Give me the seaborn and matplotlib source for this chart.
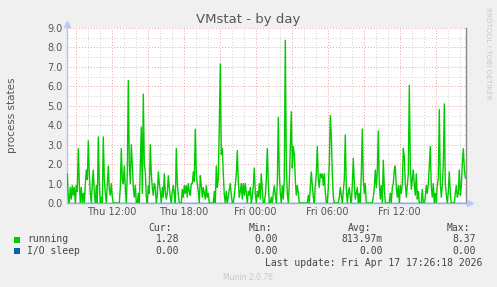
import numpy as np
import matplotlib
matplotlib.use("Agg")
import matplotlib.pyplot as plt
import seaborn as sns
import pandas as pd

# ---- data -------------------------------------------------------------
title = "VMstat - by day"
y_label = "process states"
start_hour = 8.30          # Thu 08:18, hours since Thu 00:00
step_minutes = 5
running = [
    1.5, 0.3, 0.0, 0.8, 0.2, 0.9, 0.4, 0.8, 0.0, 0.9,
    0.6, 2.8, 1.0, 0.0, 0.8, 0.0, 0.5, 0.0, 1.0, 1.7,
    1.2, 3.2, 1.5, 0.5, 0.0, 1.0, 1.7, 0.5, 0.0, 0.9,
    0.0, 3.4, 1.0, 0.0, 0.3, 0.0, 3.4, 1.2, 0.5, 0.0,
    0.9, 1.9, 0.7, 0.4, 1.0, 0.3, 0.0, 0.0, 0.0, 0.0,
    0.0, 0.0, 0.0, 0.8, 2.8, 1.2, 1.0, 1.9, 0.8, 0.0,
    1.5, 6.3, 2.0, 1.0, 3.0, 2.0, 0.8, 0.3, 0.9, 0.0,
    0.0, 0.5, 0.0, 2.0, 3.9, 0.5, 5.6, 2.0, 1.6, 0.3,
    0.0, 0.9, 0.5, 3.0, 1.5, 0.8, 0.4, 1.0, 0.8, 0.0,
    0.4, 1.6, 1.0, 0.6, 0.0, 0.8, 0.3, 1.5, 0.6, 0.2,
    0.5, 1.4, 0.8, 0.3, 0.0, 0.6, 0.9, 0.4, 0.0, 2.8,
    1.0, 0.4, 0.0, 0.0, 0.0, 0.7, 0.3, 0.9, 0.5, 0.9,
    0.3, 1.0, 0.6, 0.4, 1.0, 1.0, 1.6, 1.1, 3.8, 1.5,
    1.0, 0.6, 0.0, 1.4, 0.9, 0.3, 0.8, 0.5, 0.2, 0.9,
    0.3, 0.5, 0.0, 0.0, 0.0, 0.0, 0.0, 0.6, 0.0, 1.9,
    0.8, 1.2, 4.0, 7.15, 2.5, 2.8, 1.5, 0.4, 0.0, 0.6,
    0.0, 0.3, 0.7, 1.0, 0.4, 0.0, 0.0, 0.4, 0.9, 1.5,
    2.7, 1.1, 0.3, 0.6, 1.0, 0.2, 1.0, 0.4, 1.0, 0.5,
    0.0, 0.6, 0.4, 0.8, 0.0, 0.3, 0.9, 1.8, 0.5, 0.0,
    0.6, 0.3, 1.0, 0.2, 1.5, 0.7, 0.0, 0.0, 0.4, 1.2,
    2.8, 1.0, 0.0, 0.0, 0.3, 0.0, 0.5, 0.9, 0.4, 0.0,
    1.0, 4.4, 1.5, 0.5, 0.0, 0.9, 0.2, 1.2, 8.37, 2.0,
    0.5, 0.0, 1.0, 2.8, 4.7, 1.8, 2.9, 2.5, 1.2, 0.4,
    0.9, 0.5, 0.0, 0.0, 0.0, 0.0, 0.0, 0.0, 0.0, 0.0,
    0.0, 0.4, 0.0, 0.8, 1.6, 0.9, 0.3, 0.0, 0.9, 1.5,
    2.9, 1.2, 0.8, 1.5, 1.3, 1.5, 0.9, 1.5, 0.6, 0.0,
    0.0, 0.8, 2.0, 4.5, 3.5, 1.5, 0.3, 0.0, 0.0, 0.0,
    0.0, 0.0, 0.3, 0.8, 0.4, 0.0, 0.6, 1.2, 3.5, 0.8,
    0.0, 0.5, 0.8, 0.3, 0.0, 0.9, 2.3, 1.0, 0.2, 0.5,
    0.8, 0.0, 0.5, 0.0, 1.5, 3.8, 1.2, 0.5, 1.0, 0.0,
    0.0, 0.0, 0.0, 0.0, 0.0, 0.0, 0.3, 0.8, 1.7, 0.8,
    1.6, 3.7, 1.0, 0.2, 0.9, 0.0, 2.2, 0.8, 0.0, 0.0,
    0.0, 0.0, 0.0, 0.5, 0.0, 0.8, 1.0, 1.7, 1.9, 0.8,
    0.3, 0.9, 0.0, 0.9, 0.5, 1.0, 2.8, 2.4, 1.0, 0.3,
    0.9, 1.5, 6.05, 2.0, 0.7, 1.2, 1.7, 0.9, 0.4, 1.5,
    0.2, 0.6, 0.0, 0.0, 0.0, 0.7, 0.0, 0.0, 0.3, 0.9,
    0.5, 1.0, 1.9, 2.9, 0.8, 0.3, 1.0, 0.0, 0.5, 0.0,
    0.9, 1.3, 4.8, 1.0, 0.3, 0.9, 2.0, 5.1, 1.0, 0.4,
    0.0, 0.6, 1.6, 0.5, 0.0, 0.0, 0.0, 0.0, 0.5, 0.9,
    0.3, 0.5, 1.7, 0.4, 0.8, 2.0, 2.8, 1.8, 1.28,
]
io_sleep_value = 0.0
tick_hours = [12, 18, 24, 30, 36]
tick_labels = ["Thu 12:00", "Thu 18:00", "Fri 00:00", "Fri 06:00", "Fri 12:00"]
y_ticks = [0, 1, 2, 3, 4, 5, 6, 7, 8, 9]
legend_names = ["running", "I/O sleep"]
legend_colors = ["#00cc00", "#0066b3"]
cur_vals = ["1.28", "0.00"]
min_vals = ["0.00", "0.00"]
avg_vals = ["813.97m", "0.00"]
max_vals = ["8.37", "0.00"]
last_update = "Last update: Fri Apr 17 17:26:18 2026"
footer = "Munin 2.0.76"
side_text = "RRDTOOL / TOBI OETIKER"

# ---- build frame ------------------------------------------------------
n = len(running)
hours = start_hour + np.arange(n) * step_minutes / 60.0
df = pd.DataFrame({"hour": hours, "running": running,
                   "io": [io_sleep_value] * n})

sns.set_style("white")
plt.rcParams["font.family"] = ["DejaVu Sans"]

W, H = 497, 287
fig = plt.figure(figsize=(W / 100, H / 100), dpi=100, facecolor="#f0f0f0")
L, R, T, B = 67, 465.5, 28, 203
ax = fig.add_axes([L / W, 1 - B / H, (R - L) / W, (B - T) / H])
ax.set_facecolor("white")

x0 = 12 - (111.7 - L) / 12.0
x1 = 12 + (R - 111.7) / 12.0
ax.set_xlim(x0, x1)
ax.set_ylim(0, 9.0)

# grid
for hh in range(9, 42):
    major = hh % 3 == 0
    ax.axvline(hh, color="#eea0a0" if major else "#cfcfcf",
               linestyle=(0, (1, 2)), linewidth=0.7, zorder=0)
for yy in np.arange(0.5, 9.01, 0.5):
    major = abs(yy - round(yy)) < 1e-6
    ax.axhline(yy, color="#eea0a0" if major else "#cfcfcf",
               linestyle=(0, (1, 2)), linewidth=0.7, zorder=0)

sns.lineplot(data=df, x="hour", y="io", ax=ax, color=legend_colors[1],
             linewidth=1.0, zorder=2, legend=False)
sns.lineplot(data=df, x="hour", y="running", ax=ax, color=legend_colors[0],
             linewidth=1.0, zorder=3, legend=False)

ax.set_xticks(tick_hours)
ax.set_xticklabels(tick_labels)
ax.set_yticks(y_ticks)
ax.set_yticklabels([f"{v:.1f}" for v in y_ticks])
ax.tick_params(axis="both", length=0, labelsize=7, colors="#555555", pad=3)
ax.set_xlabel("")
ax.set_ylabel(y_label, fontsize=7.5, color="#555555", labelpad=22)

ax.spines["top"].set_visible(False)
ax.spines["left"].set_color("#b8c0f0")
ax.spines["left"].set_linewidth(1.0)
ax.spines["bottom"].set_color("#a0a8f0")
ax.spines["bottom"].set_linewidth(1.0)
ax.spines["right"].set_color("#888888")
ax.spines["right"].set_linewidth(1.0)

# axis arrows
up, = ax.plot([0], [1.0 + 4 / (B - T)], marker="^", transform=ax.transAxes,
              clip_on=False, color="#c0c8f4", markersize=4, zorder=5)
rt, = ax.plot([1.0 + 4.5 / (R - L)], [0.0], marker=">", transform=ax.transAxes,
              clip_on=False, color="#c0c8f4", markersize=4, zorder=5)

# title & side text
fig.text(248 / W, 1 - 19 / H, title, ha="center", va="center",
         fontsize=9.5, color="#555555")
fig.text(488 / W, 1 - 53 / H, side_text, ha="center", va="center",
         rotation=-90, fontsize=5.2, color="#c8c8c8")

# legend area
mono = {"family": "DejaVu Sans Mono", "size": 7, "color": "#444444"}
fy = lambda y: 1 - y / H
hdr_x = [172, 272, 371, 470]
for lab, xr in zip(["Cur:", "Min:", "Avg:", "Max:"], hdr_x):
    fig.text(xr / W, fy(228), lab, ha="right", va="center", **mono)
val_x = [179, 278, 383, 476]
rows_y = [239.5, 251]
for i in range(2):
    fig.patches.append(matplotlib.patches.Rectangle(
        (14 / W, fy(rows_y[i] + 3)), 6 / W, 6 / H, transform=fig.transFigure,
        facecolor=legend_colors[i], edgecolor="none"))
    fig.text(27 / W, fy(rows_y[i]), legend_names[i], ha="left", va="center", **mono)
    for vals, xr in zip([cur_vals, min_vals, avg_vals, max_vals], val_x):
        fig.text(xr / W, fy(rows_y[i]), vals[i], ha="right", va="center", **mono)
fig.text(482 / W, fy(263.5), last_update, ha="right", va="center", **mono)
fig.text(248 / W, fy(277), footer, ha="center", va="center",
         fontsize=5.5, color="#c8c8c8")

fig.savefig("out.png", dpi=100, facecolor=fig.get_facecolor())
